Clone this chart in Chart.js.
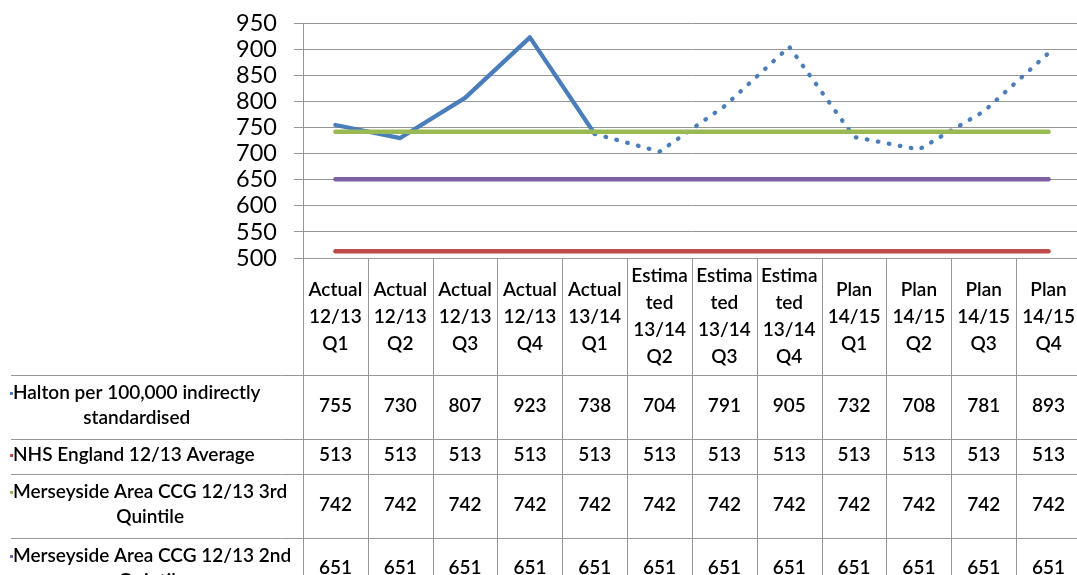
<!DOCTYPE html>
<html>
<head>
<meta charset="utf-8">
<script src="https://cdn.jsdelivr.net/npm/chart.js@4.4.1/dist/chart.umd.min.js"></script>
<style>
  html, body { margin: 0; padding: 0; background: #fff; overflow: hidden; }
  #wrap { position: relative; width: 1093px; height: 575px; }
</style>
</head>
<body>
<div id="wrap"><canvas id="chart"></canvas></div>
<script>
// Quarter categories (wrapped the way the table header shows them)
const categories = [
  ["Actual", "12/13", "Q1"],
  ["Actual", "12/13", "Q2"],
  ["Actual", "12/13", "Q3"],
  ["Actual", "12/13", "Q4"],
  ["Actual", "13/14", "Q1"],
  ["Estima", "ted", "13/14", "Q2"],
  ["Estima", "ted", "13/14", "Q3"],
  ["Estima", "ted", "13/14", "Q4"],
  ["Plan", "14/15", "Q1"],
  ["Plan", "14/15", "Q2"],
  ["Plan", "14/15", "Q3"],
  ["Plan", "14/15", "Q4"]
];

// Series names as wrapped in the data table
const haltonName = ["Halton per 100,000 indirectly", "standardised"];
const nhsName = ["NHS England 12/13 Average"];
const mersey3rdName = ["Merseyside Area CCG 12/13 3rd", "Quintile"];
const mersey2ndName = ["Merseyside Area CCG 12/13 2nd", "Quintile"];

// Values per quarter
const haltonValues = [755, 730, 807, 923, 738, 704, 791, 905, 732, 708, 781, 893];
const nhsValues = [513, 513, 513, 513, 513, 513, 513, 513, 513, 513, 513, 513];
const mersey3rdValues = [742, 742, 742, 742, 742, 742, 742, 742, 742, 742, 742, 742];
const mersey2ndValues = [651, 651, 651, 651, 651, 651, 651, 651, 651, 651, 651, 651];

// Index of the last actual quarter; the Halton line is dotted after it
const lastActualIndex = 4;

// Value axis
const yMin = 500;
const yMax = 950;
const yStep = 50;

const FONT = "Lato, 'DejaVu Sans', sans-serif";
const GRID = "#969696";

const rowLabels = [haltonName, nhsName, mersey3rdName, mersey2ndName];

// Draws the data table under the category axis
const dataTable = {
  id: 'dataTable',
  afterDraw(chart) {
    const ctx = chart.ctx;
    const x = chart.scales.x;
    const n = categories.length;
    const colW = (x.right - x.left) / n;
    const axisY = chart.chartArea.bottom;
    const headerBottom = x.bottom;
    const rowHeights = [64, 35.3, 63.5, 63.5];
    const tableLeft = 11;
    const bottom = chart.height + 40;

    ctx.save();
    ctx.strokeStyle = GRID;
    ctx.lineWidth = 1;

    // horizontal rules
    let yPos = headerBottom;
    const rowTops = [];
    ctx.beginPath();
    for (let r = 0; r < rowHeights.length; r++) {
      const yy = Math.round(yPos) + 0.5;
      ctx.moveTo(tableLeft, yy);
      ctx.lineTo(chart.width, yy);
      rowTops.push(yPos);
      yPos += rowHeights[r];
    }
    // column rules
    for (let i = 0; i <= n; i++) {
      const xx = Math.round(x.getPixelForValue(i) - colW / 2) + 0.5;
      ctx.moveTo(xx, axisY);
      ctx.lineTo(xx, bottom);
    }
    ctx.stroke();

    ctx.fillStyle = '#000';
    ctx.font = "600 19px " + FONT;
    ctx.textBaseline = 'middle';

    chart.data.datasets.forEach((ds, r) => {
      const top = rowTops[r];
      const cy = top + rowHeights[r] / 2;
      // series name: wrapped lines centred inside a left-aligned block
      const lines = rowLabels[r];
      const lh = 25;
      const blockW = Math.max(...lines.map(l => ctx.measureText(l).width));
      const firstY = cy - (lines.length - 1) * lh / 2 - 1;
      ctx.textAlign = 'center';
      lines.forEach((l, k) => {
        ctx.fillText(l, 13 + blockW / 2, firstY + k * lh);
      });
      // tiny legend key
      ctx.fillStyle = ds.borderColor;
      ctx.fillRect(10, Math.round(firstY) - 1, 3, 3);
      ctx.fillStyle = '#000';
      // values
      ds.data.forEach((v, i) => {
        ctx.fillText(String(v), x.getPixelForValue(i), cy - 1);
      });
    });
    ctx.restore();
  }
};

const lineBase = {
  pointRadius: 0,
  pointHoverRadius: 0,
  borderWidth: 4.5,
  tension: 0,
  fill: false,
  borderCapStyle: 'round',
  borderJoinStyle: 'round'
};

new Chart(document.getElementById('chart'), {
  type: 'line',
  data: {
    labels: categories,
    datasets: [
      Object.assign({}, lineBase, {
        label: haltonName.join(' '),
        data: haltonValues,
        borderColor: '#4a7ebb',
        borderWidth: 4.3,
        order: 4,
        segment: {
          borderDash: c => c.p0DataIndex >= lastActualIndex ? [0.6, 10.6] : undefined,
          borderWidth: c => c.p0DataIndex >= lastActualIndex ? 4.3 : undefined
        }
      }),
      Object.assign({}, lineBase, {
        label: nhsName.join(' '),
        data: nhsValues,
        borderColor: '#be4b48',
        order: 3
      }),
      Object.assign({}, lineBase, {
        label: mersey3rdName.join(' '),
        data: mersey3rdValues,
        borderColor: '#98b954',
        order: 2
      }),
      Object.assign({}, lineBase, {
        label: mersey2ndName.join(' '),
        data: mersey2ndValues,
        borderColor: '#7d60a0',
        order: 1
      })
    ]
  },
  options: {
    responsive: true,
    maintainAspectRatio: false,
    devicePixelRatio: 1,
    animation: false,
    events: [],
    layout: { padding: { top: 23.3, right: 1, bottom: 200.3, left: 0 } },
    plugins: {
      legend: { display: false },
      tooltip: { enabled: false },
      title: { display: false }
    },
    scales: {
      x: {
        type: 'category',
        offset: true,
        grid: { display: false, offset: true, drawTicks: false },
        border: { display: true, color: GRID, width: 1 },
        ticks: {
          autoSkip: false,
          maxRotation: 0,
          minRotation: 0,
          crossAlign: 'center',
          padding: 18,
          color: '#000',
          font: { family: FONT, size: 19, weight: '600', lineHeight: '27px' }
        },
        afterFit: s => { s.height = 116.7; }
      },
      y: {
        min: yMin,
        max: yMax,
        ticks: {
          stepSize: yStep,
          autoSkip: false,
          padding: 17,
          color: '#000',
          font: { family: FONT, size: 23.5, lineHeight: 0.2 }
        },
        grid: { display: true, color: GRID, lineWidth: 1, tickLength: 9, drawTicks: true, drawOnChartArea: true },
        border: { display: true, color: GRID, width: 1 },
        afterFit: s => { s.width = 303; }
      }
    }
  },
  plugins: [dataTable]
});
</script>
</body>
</html>
